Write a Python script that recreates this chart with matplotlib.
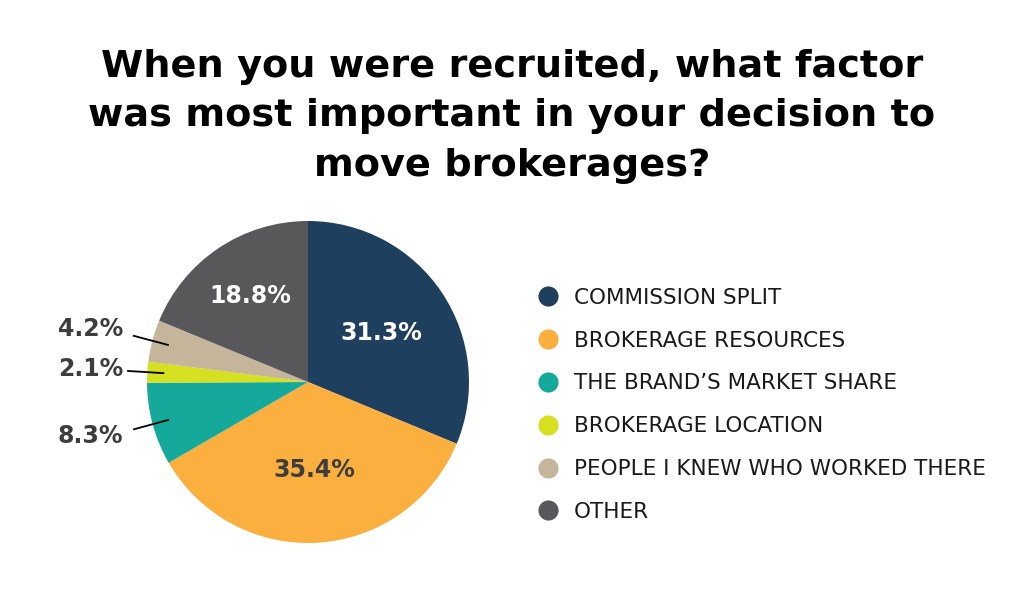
import numpy as np
import matplotlib.pyplot as plt
from matplotlib.lines import Line2D

categories = [
    "COMMISSION SPLIT",
    "BROKERAGE RESOURCES",
    "THE BRAND\u2019S MARKET SHARE",
    "BROKERAGE LOCATION",
    "PEOPLE I KNEW WHO WORKED THERE",
    "OTHER",
]
shares = [31.3, 35.4, 8.3, 2.1, 4.2, 18.8]
colors = ["#1f3f5f", "#fbaf3f", "#15a99b", "#d7df21", "#c4b59b", "#58585a"]
title = "When you were recruited, what factor\nwas most important in your decision to\nmove brokerages?"

W, H = 1024, 614
fig = plt.figure(figsize=(W / 100, H / 100), dpi=100)
fig.patch.set_facecolor("white")

# pie centre (308, 382) px, radius 161 px
cx, cy, r = 308, 382, 161
ax = fig.add_axes([(cx - r) / W, (H - cy - r) / H, 2 * r / W, 2 * r / H])
wedges, _ = ax.pie(shares, colors=colors, startangle=90, counterclock=False,
                   radius=1, wedgeprops=dict(linewidth=0))
ax.set_xlim(-1, 1)
ax.set_ylim(-1, 1)
ax.set_aspect("equal")
ax.axis("off")

# labels inside big slices, outside with leader lines for small ones
inside = {0: (0.55, "white"), 1: (0.55, "#3d3d3d"), 5: (0.64, "white")}
for i, w in enumerate(wedges):
    mid = np.deg2rad((w.theta1 + w.theta2) / 2)
    c, s = np.cos(mid), np.sin(mid)
    txt = f"{shares[i]:.1f}%"
    if i in inside:
        d, col = inside[i]
        ax.text(d * c, d * s, txt, ha="center", va="center", color=col,
                fontsize=17, fontweight="bold")
    else:
        ax.plot([0.9 * c, 1.12 * c], [0.9 * s, 1.12 * s], color="black", lw=1.3,
                clip_on=False)
        ax.text(-1.553, 1.29 * s, txt, ha="left", va="center", color="#3d3d3d",
                fontsize=17, fontweight="bold")

fig.text(0.5, 1 - 49 / H, title, ha="center", va="top", fontsize=27.5,
         fontweight="bold", linespacing=1.48, color="black")

handles = [Line2D([], [], marker="o", linestyle="none", markersize=14.5,
                  markerfacecolor=col, markeredgewidth=0) for col in colors]
fig.legend(handles, categories, loc="upper left",
           bbox_to_anchor=(524 / W, 1 - 277 / H), frameon=False,
           fontsize=15.5, labelspacing=1.06, handletextpad=0.61,
           labelcolor="#1a1a1a", borderpad=0, handlelength=1.2)

fig.savefig("out.png", dpi=100, facecolor="white")
